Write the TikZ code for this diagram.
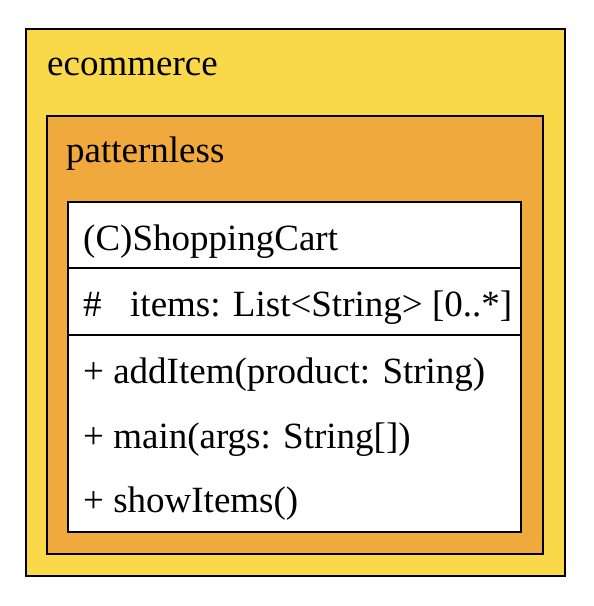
\documentclass[tikz,border=0pt]{standalone}
\usepackage{fontspec}
\setmainfont{Liberation Serif}
\usetikzlibrary{positioning}
\definecolor{pkgyellow}{RGB}{249,216,74}
\definecolor{pkgorange}{RGB}{240,169,60}

\begin{document}
\begin{tikzpicture}[x=1pt, y=-1pt,
 label/.style={font=\fontsize{37}{44}\selectfont, anchor=base west, inner sep=0pt},
 frame/.style={draw=black, line width=1.8pt}]
 \useasboundingbox (0,0) rectangle (594,606);

 % Packages
 \filldraw[frame, fill=pkgyellow] (26,29) rectangle (565,576);
 \node[label] (ecommerce) at (47,75) {ecommerce};
 \filldraw[frame, fill=pkgorange] (47,116) rectangle (543,554);
 \node[label] (patternless) at (66,162) {patternless};

 % Class box
 \filldraw[frame, fill=white] (68,202) rectangle (521,532);
 \draw[frame] (68,268) -- (521,268);
 \draw[frame] (68,335) -- (521,335);
 \node[label] (cname) at (83,250) {(C)ShoppingCart};

 % Attributes
 \node[label] (vis) at (83,316) {\#};
 \node[label] (items) at (130,316) {items: List<String> [0..*]};

 % Operations
 \node[label] (additem) at (83,383) {+ addItem(product: String)};
 \node[label] (main) at (83,448) {+ main(args: String[])};
 \node[label] (showitems) at (83,512) {+ showItems()};
\end{tikzpicture}
\end{document}
